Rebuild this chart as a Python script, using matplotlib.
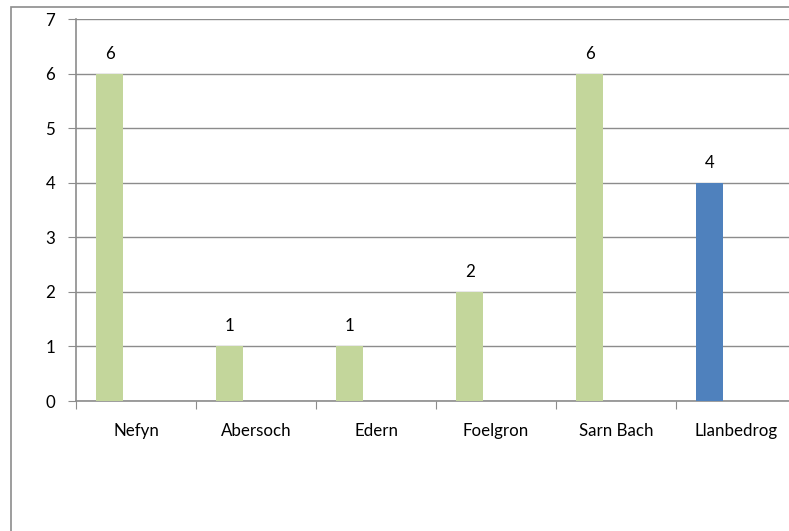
import numpy as np
import matplotlib.pyplot as plt
from matplotlib.patches import Rectangle

# chart data
places = ['Nefyn', 'Abersoch', 'Edern', 'Foelgron', 'Sarn Bach', 'Llanbedrog']
counts = [6, 1, 1, 2, 6, 4]
bar_colors = ['#C3D69B', '#C3D69B', '#C3D69B', '#C3D69B', '#C3D69B', '#4F81BD']
y_ticks = [0, 1, 2, 3, 4, 5, 6, 7]

plt.rcParams['font.family'] = ['Lato', 'DejaVu Sans']
fs = 12.2

W, H = 789, 531
fig = plt.figure(figsize=(W / 100, H / 100), dpi=100)

# outer chart border (runs off the right and bottom of the image)
fig.patches.append(Rectangle((10.5 / W, -0.1), 1.2, 1.1 - 6.5 / H, transform=fig.transFigure,
                             fill=False, edgecolor='#8c8c8c', linewidth=1.2))

# plot area runs past the right edge, as in the original
ax = fig.add_axes([76 / W, 130 / H, 720 / W, 382 / H])
ax.set_xlim(0, len(places))
ax.set_ylim(0, 7)

x = np.arange(len(places)) + 0.5
offset = -0.22
width = 0.225
bars = ax.bar(x + offset, counts, width=width, color=bar_colors, zorder=3)

for xi, v in zip(x + offset, counts):
    ax.text(xi, v + 0.22, str(v), ha='center', va='bottom', fontsize=fs, color='black')

ax.set_yticks(y_ticks)
ax.set_yticklabels([str(t) for t in y_ticks], fontsize=fs)
ax.yaxis.grid(True, color='#8c8c8c', linewidth=1.0, zorder=0)
ax.tick_params(axis='y', length=6, color='#8c8c8c', pad=9)

ax.set_xticks(np.arange(len(places) + 1))
ax.set_xticklabels([])
ax.set_xticks(x, minor=True)
ax.set_xticklabels(places, minor=True, fontsize=fs)
ax.tick_params(axis='x', which='major', length=6, color='#8c8c8c')
ax.tick_params(axis='x', which='minor', length=0, pad=16)

for side in ['top', 'right']:
    ax.spines[side].set_visible(False)
for side in ['left', 'bottom']:
    ax.spines[side].set_color('#8c8c8c')
    ax.spines[side].set_linewidth(1.2)

fig.savefig('out.png', dpi=100)
